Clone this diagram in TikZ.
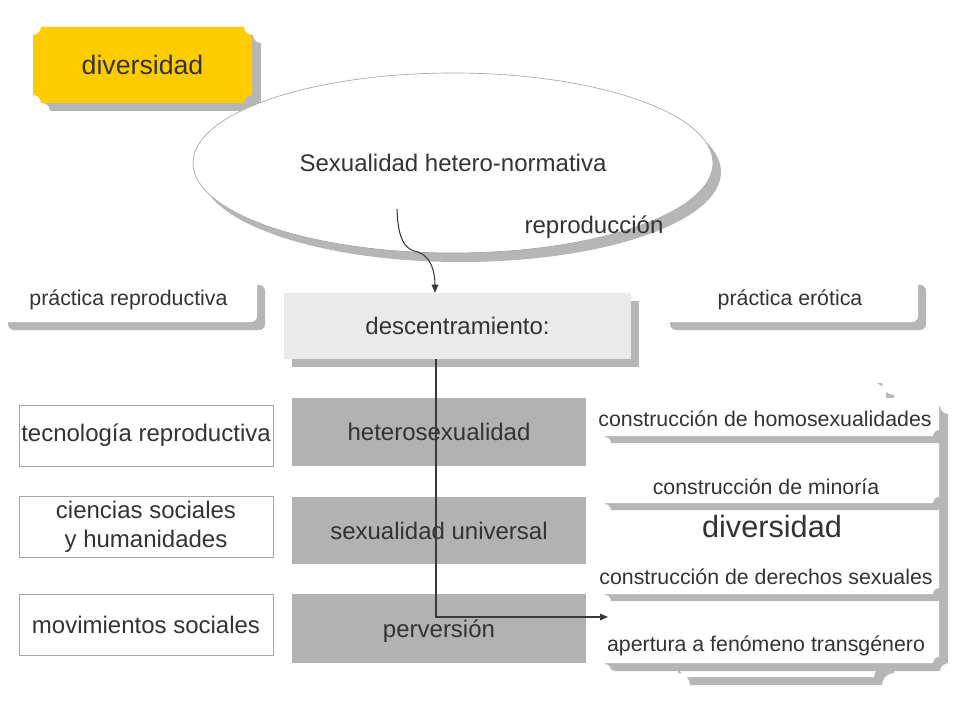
\documentclass[tikz,border=0pt]{standalone}
\usepackage{fontspec}
\setmainfont{Liberation Sans}
\usetikzlibrary{shapes.geometric,arrows.meta}
\definecolor{ybox}{HTML}{FFCC00}
\definecolor{shad}{HTML}{B6B6B6}
\definecolor{gbox}{HTML}{B2B2B2}
\definecolor{lbox}{HTML}{EAEAEA}
\definecolor{txtc}{HTML}{333333}
\definecolor{edgec}{HTML}{A6A6A6}
\definecolor{linec}{HTML}{3A3A3A}
\tikzset{
 notch/.style n args={5}{insert path={({#1+#5},#2) -- ({#3-#5},#2) .. controls ({#3-#5},{#2+0.55*#5}) and ({#3-0.55*#5},{#2+#5}) .. (#3,{#2+#5}) -- (#3,{#4-#5}) .. controls ({#3-0.55*#5},{#4-#5}) and ({#3-#5},{#4-0.55*#5}) .. ({#3-#5},#4) -- ({#1+#5},#4) .. controls ({#1+#5},{#4-0.55*#5}) and ({#1+0.55*#5},{#4-#5}) .. (#1,{#4-#5}) -- (#1,{#2+#5}) .. controls ({#1+0.55*#5},{#2+#5}) and ({#1+#5},{#2+0.55*#5}) .. cycle}},
 f16/.style={font=\fontsize{16}{19}\selectfont, text=txtc},
 f18/.style={font=\fontsize{18}{21.5}\selectfont, text=txtc},
 whitebox/.style={f16, fill=white, rounded corners=4.5pt, inner sep=0pt, minimum width=257*0.75pt, minimum height=45*0.75pt},
 graybox/.style={f18, fill=gbox, inner sep=0pt, minimum width=294*0.75pt, minimum height=68*0.75pt},
 leftbox/.style={f18, draw=edgec, line width=0.6pt, fill=white, inner sep=0pt, minimum width=254*0.75pt, minimum height=61*0.75pt, align=center},
 conn/.style={draw=linec, line width=0.8pt, -{Triangle[length=6pt,width=5pt]}},
}
\begin{document}
\begin{tikzpicture}[x=0.75pt,y=-0.75pt]
\useasboundingbox (0,0) rectangle (960,720);
% yellow diversidad
\fill[shad, notch={42}{35}{261}{111}{8}];
\fill[ybox, notch={33}{27}{252}{103}{8}];
\node[font=\fontsize{20}{24}\selectfont, text=txtc] (div1) at (142.5,65) {diversidad};
% ellipse
\fill[shad] (461,172) ellipse [x radius=260, y radius=90];
\node[ellipse, fill=white, draw=edgec, line width=0.5pt, inner sep=0pt, minimum width=520*0.75pt, minimum height=180*0.75pt, f18] (ell) at (453,163) {Sexualidad hetero-normativa};
\node[f18] (repro) at (594,227) {reproducción};
% top white boxes
\fill[shad, rounded corners=4.5pt] (8,285) rectangle (265,330);
\node[whitebox] (prep) at (128.5,299.5) {práctica reproductiva};
\fill[shad, rounded corners=4.5pt] (670,285) rectangle (926,330);
\node[whitebox, minimum width=256*0.75pt] (pero) at (790,299.5) {práctica erótica};
% descentramiento
\fill[shad] (292,301) rectangle (639,367);
\node[f18, fill=lbox, inner sep=0pt, minimum width=347*0.75pt, minimum height=66*0.75pt] (desc) at (457.5,326) {descentramiento:};
% gray boxes
\node[graybox] (hetero) at (439,432) {heterosexualidad};
\node[graybox, minimum height=67*0.75pt] (univ) at (439,530.5) {sexualidad universal};
\node[graybox, minimum height=69*0.75pt, text depth=-3pt] (perv) at (439,628.5) {perversión};
% left boxes
\node[leftbox] (tec) at (146,435.5) {tecnología reproductiva};
\node[leftbox] (cien) at (146,526.5) {ciencias sociales\\ y humanidades};
\node[leftbox] (mov) at (146,624.5) {movimientos sociales};
% big diversidad frame
\fill[shad, notch={678}{383}{894}{685}{12}];
\fill[white, notch={670}{375}{886}{677}{12}];
% back panel
\fill[shad, notch={606}{406}{948}{671}{8}];
\fill[white, notch={598}{398}{939}{663}{8}];
% right text boxes
\fill[shad, notch={605}{408}{946}{443}{6}];
\fill[white, notch={598}{401}{939}{436}{6}];
\node[f16] (homo) at (765,418.5) {construcción de homosexualidades};
\fill[shad, notch={605}{476}{946}{510}{6}];
\fill[white, notch={598}{469}{939}{503}{6}];
\node[f16] (mino) at (766,487) {construcción de minoría};
\node[font=\fontsize{23}{27}\selectfont, text=txtc] (div2) at (772,527) {diversidad};
\fill[shad, notch={605}{567}{946}{601}{6}];
\fill[white, notch={598}{560}{939}{594}{6}];
\node[f16] (dere) at (766,577) {construcción de derechos sexuales};
\fill[shad, notch={605}{635}{946}{670}{6}];
\fill[white, notch={598}{628}{939}{663}{6}];
\node[f16] (trans) at (766,646) {apertura a fenómeno transgénero};
% connectors
\coordinate (a1) at (397,209);
\coordinate (p1) at (435,0);
\draw[conn] (a1) .. controls (398,240) and (405,250) .. (418,252) .. controls (430,256) and (435,270) .. (desc.north -| p1);
\coordinate (p2) at (436,0);
\coordinate (bend) at (436,617);
\coordinate (a2end) at (608,617);
\draw[conn] (desc.south -| p2) -- (bend) -- (a2end);
\end{tikzpicture}
\end{document}
